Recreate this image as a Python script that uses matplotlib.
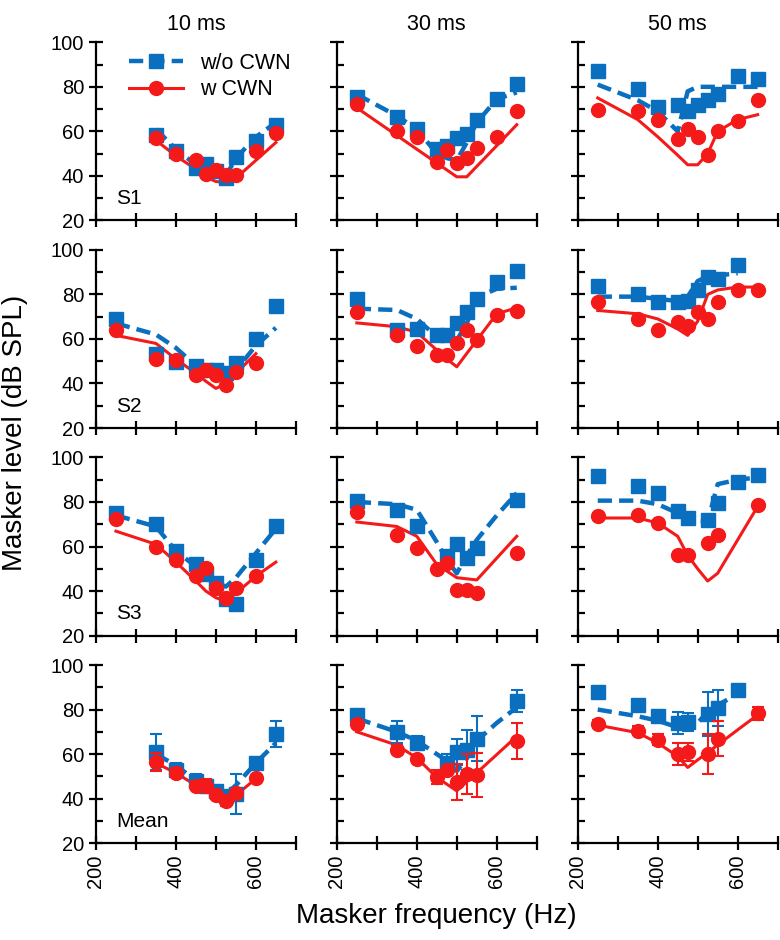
import numpy as np
import matplotlib
matplotlib.use('Agg')
from matplotlib import pyplot as plt
from matplotlib.ticker import FixedLocator, FuncFormatter

plt.rcParams['font.family'] = ['Liberation Sans', 'DejaVu Sans']

nan = np.nan
freqs = [250, 350, 400, 450, 475, 500, 525, 550, 600, 650]

durations = ['10 ms', '30 ms', '50 ms']
rows = ['S1', 'S2', 'S3', 'Mean']

# S1
s1_10_wo = [nan, 58.5, 51, 43.5, 45.5, 42, 39, 48.5, 55.5, 63]
s1_10_w = [nan, 57, 49.7, 47, 41, 42.5, 40.4, 40.4, 51.3, 59.2]
s1_10_wo_fit = [nan, 61, 52, 45, 42, 40, 40, 48, 57.5, 64]
s1_10_w_fit = [nan, 56, 49, 43, 39.5, 37.5, 37, 39, 47, 55]

s1_30_wo = [75.5, 66.5, 61, 52, 53.5, 57, 59, 65, 74.6, 81.4]
s1_30_w = [72.4, 60, 57.7, 46.4, 51.7, 45.7, 48.2, 52.5, 57.7, 69]
s1_30_wo_fit = [76.6, 67, 61, 50, 48, 47, 55, 64, 74.5, 77.5]
s1_30_w_fit = [70.6, 58.2, 52, 45.8, 42.7, 39.6, 39.6, 44.3, 53.6, 63]

s1_50_wo = [87.2, 78.9, 70.9, 72, 69, 72, 74.3, 76.6, 85, 83.4]
s1_50_w = [69.5, 69, 65.3, 56.5, 61, 57.7, 49.4, 60, 64.8, 74.3]
s1_50_wo_fit = [81, 74, 69, 60, 78, 80, 80, 80, 80, 80]
s1_50_w_fit = [75, 65.3, 57.6, 49.3, 45, 45, 50, 60, 65.3, 67.5]

# S2
s2_10_wo = [69, 53.4, 49.7, 48, 46, 46, 44.5, 49, 60, 75]
s2_10_w = [64, 51, 50.5, 44, 46, 44, 39.3, 45, 49, nan]
s2_10_wo_fit = [67, 62, 56, 48, 45, 43, 43.5, 46, 57, 65]
s2_10_w_fit = [61.6, 58, 51, 44.5, 41, 37.8, 40, 44.5, 53.4, nan]

s2_30_wo = [78, 64, 64.6, 61.6, 61.6, 67, 72, 78, 85.5, 90.7]
s2_30_w = [72, 61.6, 57, 52.7, 52.7, 58, 64, 59.4, 70.6, 72.5]
s2_30_wo_fit = [73.6, 73, 69, 61, 60, 59.4, 67, 78.8, 82.5, 83]
s2_30_w_fit = [67.2, 65.5, 63, 55, 51, 47.5, 53.5, 59.4, 71.3, 74]

s2_50_wo = [84, 80.3, 76.6, 76.6, 77, 81.8, 87.8, 87, 93, nan]
s2_50_w = [76.6, 69, 63.9, 67.6, 66, 72, 69, 76.6, 81.8, 81.8]
s2_50_wo_fit = [79, 79, 78, 77, 79, 86, 88, 88.5, 89.5, nan]
s2_50_w_fit = [72.8, 71.3, 69, 64.5, 61.6, 68, 80, 82, 83.3, 83.3]

# S3
s3_10_wo = [75, 69.9, 57.9, 52, 47.5, 43.7, 36.3, 34, 54, 69]
s3_10_w = [72.5, 59.7, 54, 46.7, 50.4, 41.5, 37, 41.5, 46.7, nan]
s3_10_wo_fit = [74, 69, 58, 51, 47, 44, 42, 46, 57, 68]
s3_10_w_fit = [66.9, 61, 53, 44.5, 40, 37, 35.5, 39, 46.7, 53]

s3_30_wo = [80.3, 76.6, 69, nan, 55.7, 61, 55, 59.4, nan, 81]
s3_30_w = [75.4, 65, 59.4, 49.7, 52.7, 40.7, 40.7, 39.3, nan, 57]
s3_30_wo_fit = [80, 79, 76.5, 62, 54, 48, 56, 63, 74, 84]
s3_30_w_fit = [71, 69, 64.6, 52, 49, 46, 45.5, 45, 54.8, 64.6]

s3_50_wo = [91.5, 87, 84, 75.8, 73, nan, 72, 79.6, 89, 92]
s3_50_w = [73.6, 74, 70.6, 56.4, 56.4, nan, 61.6, 65, nan, 78.8]
s3_50_wo_fit = [80.6, 80.6, 79, 75, 73, 71.5, 71.3, 88, 90, 91]
s3_50_w_fit = [72.8, 72.8, 70.6, 64.6, 56, 50, 44.5, 48, 63, 78]

# Mean (with SD bars)
mean_10_wo = [nan, 61, 53, 48, 45.5, 43.5, 41, 42, 56, 69]
mean_10_wo_err = [nan, 8, 3, 3, 2, 2, 2, 9, 2, 6]
mean_10_w = [nan, 56.6, 51.7, 45.8, 45.8, 41.8, 38.8, 42.5, 49.2, nan]
mean_10_w_err = [nan, 4, 2, 2, 3, 2, 2, 2, 1, nan]
mean_10_wo_fit = [nan, 60, 55, 48, 45, 43, 42, 46, 56, 65]
mean_10_w_fit = [nan, 56, 51.5, 46, 44, 41.5, 39, 41.5, 49, nan]

mean_30_wo = [77.5, 70, 65, nan, 56, 61, 62, 67, nan, 84]
mean_30_wo_err = [1.5, 5, 3, nan, 4, 6, 9, 10, nan, 5]
mean_30_w = [73.5, 62, 58, 49.7, 52.7, 47.6, 51, 50.6, nan, 66]
mean_30_w_err = [1.5, 2, 1.5, 3, 2, 8, 9, 10, nan, 8]
mean_30_wo_fit = [76, 70, 66, 60, 57, 52.4, 58, 66, 74, 81]
mean_30_w_fit = [70, 64, 58.3, 49.5, 46.5, 43.5, 47.6, 51.6, 59.8, 68]

mean_50_wo = [88, 82, 77, 74, 74.3, nan, 78, 80.6, 89, nan]
mean_50_wo_err = [2, 2, 2, 5, 4, nan, 10, 8, 1, nan]
mean_50_w = [73.5, 70.5, 66.5, 60, 61, nan, 60, 67, nan, 78.3]
mean_50_w_err = [2, 2, 2.5, 5, 4, nan, 9, 8, nan, 3]
mean_50_wo_fit = [80, 77, 75, 72, 71, 74, 79, 82, 87, nan]
mean_50_w_fit = [73, 69.6, 65, 59, 54, 57.4, 60.7, 64.1, 70.9, 77.6]

panels = [
    [(s1_10_wo, s1_10_w, s1_10_wo_fit, s1_10_w_fit, None, None),
     (s1_30_wo, s1_30_w, s1_30_wo_fit, s1_30_w_fit, None, None),
     (s1_50_wo, s1_50_w, s1_50_wo_fit, s1_50_w_fit, None, None)],
    [(s2_10_wo, s2_10_w, s2_10_wo_fit, s2_10_w_fit, None, None),
     (s2_30_wo, s2_30_w, s2_30_wo_fit, s2_30_w_fit, None, None),
     (s2_50_wo, s2_50_w, s2_50_wo_fit, s2_50_w_fit, None, None)],
    [(s3_10_wo, s3_10_w, s3_10_wo_fit, s3_10_w_fit, None, None),
     (s3_30_wo, s3_30_w, s3_30_wo_fit, s3_30_w_fit, None, None),
     (s3_50_wo, s3_50_w, s3_50_wo_fit, s3_50_w_fit, None, None)],
    [(mean_10_wo, mean_10_w, mean_10_wo_fit, mean_10_w_fit, mean_10_wo_err, mean_10_w_err),
     (mean_30_wo, mean_30_w, mean_30_wo_fit, mean_30_w_fit, mean_30_wo_err, mean_30_w_err),
     (mean_50_wo, mean_50_w, mean_50_wo_fit, mean_50_w_fit, mean_50_wo_err, mean_50_w_err)],
]

BLUE = '#0b6fc0'
RED = '#f51a1a'

fig, axes = plt.subplots(4, 3, figsize=(7.8, 9.4), dpi=100)
fig.subplots_adjust(left=0.123, right=0.997, top=0.955, bottom=0.103,
                    wspace=0.205, hspace=0.165)

f = np.array(freqs, dtype=float)
for r in range(4):
    for c in range(3):
        ax = axes[r, c]
        wo, w, wo_fit, w_fit, wo_err, w_err = panels[r][c]
        wo = np.array(wo, dtype=float)
        w = np.array(w, dtype=float)
        wo_fit = np.array(wo_fit, dtype=float)
        w_fit = np.array(w_fit, dtype=float)

        m = ~np.isnan(wo_fit)
        ax.plot(f[m], wo_fit[m], color=BLUE, lw=3.2, ls=(0, (3.2, 1.6)), zorder=2)
        m = ~np.isnan(w_fit)
        ax.plot(f[m], w_fit[m], color=RED, lw=2.2, zorder=2)

        m = ~np.isnan(wo)
        if wo_err is not None:
            e = np.array(wo_err, dtype=float)
            ax.errorbar(f[m], wo[m], yerr=e[m], fmt='none', ecolor=BLUE,
                        elinewidth=1.5, capsize=4, capthick=1.5, zorder=3)
        ax.plot(f[m], wo[m], 's', color=BLUE, ms=9.5, mec=BLUE, zorder=3,
                clip_on=False)
        m = ~np.isnan(w)
        if w_err is not None:
            e = np.array(w_err, dtype=float)
            ax.errorbar(f[m], w[m], yerr=e[m], fmt='none', ecolor=RED,
                        elinewidth=1.5, capsize=4, capthick=1.5, zorder=4)
        ax.plot(f[m], w[m], 'o', color=RED, ms=10, mec=RED, zorder=4,
                clip_on=False)

        ax.set_xlim(200, 700)
        ax.set_ylim(20, 100)
        ax.spines['top'].set_visible(False)
        ax.spines['right'].set_visible(False)
        ax.spines['left'].set_linewidth(1.6)
        ax.spines['bottom'].set_linewidth(1.6)
        ax.xaxis.set_major_locator(FixedLocator([200, 300, 400, 500, 600, 700]))
        ax.yaxis.set_major_locator(FixedLocator([20, 40, 60, 80, 100]))
        ax.yaxis.set_minor_locator(FixedLocator([30, 50, 70, 90]))
        ax.tick_params(which='major', direction='inout', length=10, width=1.6,
                       labelsize=14.5)
        ax.tick_params(which='minor', direction='in', length=5, width=1.6)
        ax.xaxis.set_major_formatter(FuncFormatter(
            lambda v, p: '%d' % v if v in (200, 400, 600) else ''))
        if r < 3:
            ax.tick_params(axis='x', labelbottom=False)
        else:
            for lab in ax.get_xticklabels():
                lab.set_rotation(90)
        if c > 0:
            ax.tick_params(axis='y', labelleft=False)
        if r == 0:
            ax.set_title(durations[c], fontsize=15.5, pad=9)
        if c == 0:
            ax.text(0.1, 0.07, rows[r], transform=ax.transAxes, fontsize=15,
                    ha='left', va='bottom')

# legend in the first panel
h1, = axes[0, 0].plot([], [], color=BLUE, lw=3.2, ls=(0, (3.2, 1.6)),
                      marker='s', ms=9.5)
h2, = axes[0, 0].plot([], [], color=RED, lw=2.2, marker='o', ms=10)
axes[0, 0].legend([h1, h2], ['w/o CWN', 'w CWN'], loc='upper left',
                  bbox_to_anchor=(0.07, 1.05), frameon=False, fontsize=15.5,
                  handlelength=2.5, handletextpad=0.8, labelspacing=0.25)

fig.text(0.019, 0.54, 'Masker level (dB SPL)', rotation=90, fontsize=20,
         ha='center', va='center')
fig.text(0.56, 0.026, 'Masker frequency (Hz)', fontsize=20, ha='center',
         va='center')

plt.savefig('out.png')
